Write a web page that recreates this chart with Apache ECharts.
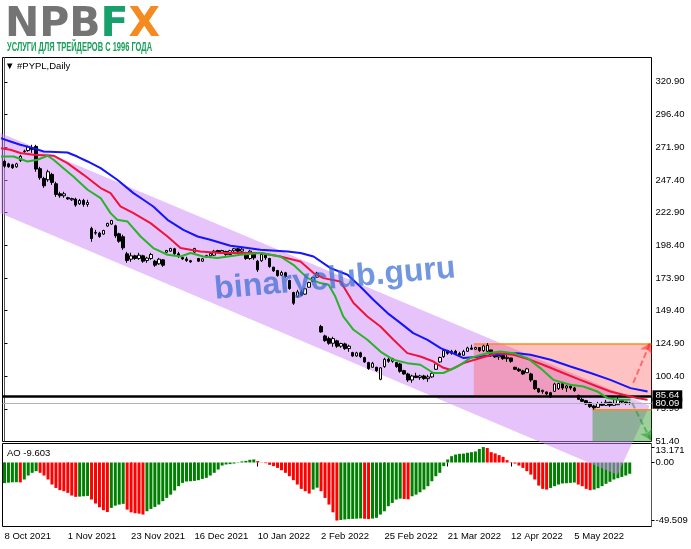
<!DOCTYPE html>
<html><head><meta charset="utf-8">
<script src="https://cdn.jsdelivr.net/npm/echarts@6/dist/echarts.min.js"></script>
<style>html,body{margin:0;padding:0;background:#fff;}#chart{width:691px;height:549px;}</style>
</head><body><div id="chart"></div>
<script>
// ---- data ----
const dateLabels = ['8 Oct 2021','1 Nov 2021','23 Nov 2021','16 Dec 2021','10 Jan 2022','2 Feb 2022','25 Feb 2022','21 Mar 2022','12 Apr 2022','5 May 2022'];
const labelStep = 16;      // bars between date labels
const slotCount = 164;     // bar slots across the panel (incl. empty right margin)
const priceTicks = [51.40, 75.90, 100.40, 124.90, 149.40, 173.90, 198.40, 222.90, 247.40, 271.90, 296.40, 320.90];
const aoTicks = [-49.509, 0, 13.171];
const bidPrice = 80.09;
const levelPrice = 85.64;

// [open, close, low, high]
const candles = [
[261.3,257.7,256.5,262.5],[259.4,257.3,256.5,260.2],[258.7,256.5,255.7,259.5],[257.2,259.4,256.5,260.2],[262.0,265.1,260.9,266.2],
[268.6,269.0,267.7,270.0],[269.4,272.1,268.5,273.0],[271.5,270.3,267.7,273.7],[272.5,255.5,253.5,273.7],[255.8,249.0,247.5,257.2],
[248.5,243.0,241.5,249.7],[247.5,253.5,246.0,255.0],[251.5,245.5,243.7,252.7],[244.5,236.5,234.7,246.0],[237.0,235.5,234.0,238.5],
[235.5,237.0,234.0,238.5],[234.0,233.2,232.5,234.7],[232.5,233.4,231.7,234.0],[233.0,228.5,227.3,234.0],[229.5,232.0,228.7,233.2],
[232.0,229.0,227.3,233.2],[229.0,230.5,227.3,232.5],[211.0,203.5,201.0,212.3],[207.5,208.0,206.3,210.0],[207.5,205.0,204.0,208.5],
[206.8,209.5,206.3,210.0],[212.8,214.8,212.3,215.3],[214.3,217.0,213.8,217.5],[213.0,205.5,204.0,213.8],[207.0,201.5,200.3,207.8],
[204.8,196.5,195.0,206.3],[192.0,187.0,185.3,193.5],[188.0,190.5,186.0,192.8],[190.5,188.5,187.5,191.3],[188.5,191.0,187.5,192.8],
[190.5,186.5,185.3,191.3],[187.0,188.8,185.3,189.8],[188.5,191.5,187.5,192.8],[186.5,183.5,182.3,187.5],[184.5,188.0,183.8,189.0],
[187.5,183.5,182.3,188.0],[193.2,194.5,192.8,195.0],[194.0,196.0,193.5,196.5],[195.8,192.0,191.3,196.5],[192.0,190.0,189.0,193.5],
[189.3,188.2,187.5,189.8],[188.2,187.0,186.0,189.8],[186.8,186.0,185.3,187.5],[193.3,196.0,192.8,196.5],[188.5,186.5,186.0,189.0],
[186.5,188.3,186.0,189.0],[189.5,190.8,189.0,191.3],[190.5,192.3,189.8,192.8],[191.0,194.0,190.5,195.0],[194.5,193.3,192.8,195.0],
[193.3,194.5,192.8,195.0],[193.8,191.5,190.5,194.3],[191.5,194.3,191.0,195.0],[194.3,195.8,192.8,196.5],[195.8,194.0,192.8,196.5],
[194.0,195.5,193.5,196.5],[193.0,188.5,187.5,193.5],[188.5,194.0,187.5,195.0],[192.5,189.0,187.5,192.8],[186.5,180.0,178.5,187.5],
[186.8,191.5,186.0,192.8],[191.0,189.0,187.5,191.3],[188.5,182.5,181.6,189.0],[182.0,179.3,178.5,182.3],[179.5,175.8,174.8,180.0],
[176.0,178.0,175.6,179.3],[177.8,175.0,174.1,178.5],[172.0,166.0,165.1,172.6],[163.0,155.0,153.8,163.6],[160.0,163.5,159.1,165.1],
[163.5,161.0,160.3,165.1],[161.8,165.8,161.3,166.6],[167.0,170.5,166.6,171.1],[171.5,174.2,171.1,174.8],[174.5,177.5,174.1,178.5],
[137.5,133.5,132.9,138.8],[130.5,127.0,126.1,131.4],[128.5,125.0,123.9,129.9],[125.0,128.5,122.4,129.9],[126.8,122.8,121.6,127.6],
[122.8,124.8,121.6,125.4],[124.5,121.0,120.1,125.4],[121.0,122.8,118.6,123.9],[118.0,115.5,114.9,118.6],[115.5,117.8,114.9,118.6],
[117.8,115.0,114.1,118.6],[114.3,111.0,110.4,114.9],[110.5,106.0,105.1,111.1],[107.0,110.0,106.6,111.1],[107.0,104.5,103.6,107.4],
[98.0,106.6,97.3,107.0],[107.5,113.0,106.6,114.1],[113.0,111.5,110.4,114.9],[111.5,113.5,110.4,114.1],[110.5,107.5,106.6,111.1],
[109.5,104.0,102.9,110.4],[104.5,102.0,101.4,105.1],[102.0,97.5,96.1,102.9],[97.5,100.5,95.4,101.4],[100.5,99.3,99.1,102.9],
[99.3,100.5,97.6,101.4],[100.5,98.5,97.6,101.4],[98.5,99.8,96.1,101.4],[99.8,102.5,99.1,103.6],[105.5,109.5,105.1,110.4],
[111.0,114.3,110.4,114.9],[115.0,119.5,114.1,120.1],[119.5,117.5,116.4,120.1],[117.5,119.0,116.4,120.1],[119.0,117.3,116.4,120.1],
[117.3,116.0,114.9,118.6],[116.0,118.8,115.6,120.1],[119.0,121.5,118.6,122.4],[121.5,120.5,120.1,123.9],[120.5,121.8,120.1,122.4],
[121.8,119.5,118.6,122.0],[119.5,123.0,118.6,123.9],[119.0,123.5,118.6,125.2],[120.0,116.0,114.9,120.1],[116.0,114.8,114.1,116.4],
[114.8,115.8,112.6,116.4],[115.8,113.5,112.6,116.4],[113.5,114.5,111.1,116.4],[114.0,111.5,110.4,114.1],[107.0,105.5,105.1,107.4],
[105.5,104.3,103.6,106.6],[104.3,102.0,101.4,105.1],[103.0,105.8,102.9,106.6],[102.0,97.5,96.1,102.9],[97.0,91.0,90.1,97.6],
[91.0,88.5,87.9,91.6],[88.8,89.8,87.2,90.1],[88.5,87.0,86.4,88.8],[88.0,84.8,84.1,88.6],[89.0,94.5,88.6,95.4],
[91.0,94.8,90.1,95.4],[94.8,91.5,90.1,95.0],[91.5,93.0,88.6,93.9],[93.0,91.5,90.1,93.9],[91.5,89.5,88.6,92.4],
[86.0,83.0,82.6,86.4],[83.0,81.5,81.1,84.1],[82.0,79.5,78.9,82.6],[80.5,77.5,76.6,81.1],[78.0,76.5,75.2,78.9],
[77.0,79.8,76.8,81.1],[79.8,78.5,78.1,81.1],[78.5,80.8,78.2,82.6],[80.8,78.5,77.4,81.1],[78.5,80.0,78.2,82.6],
[79.0,83.0,78.9,84.9],[82.5,81.0,80.4,82.6],[81.0,80.3,78.9,81.1],[80.3,80.09,78.9,81.1]
];

// Alligator lines: [bar position, price]
const jawLine = [[-1.0,278.7],[1.5,276.2],[4.0,273.7],[7.3,271.2],[9.9,268.7],[15.9,267.9],[18.4,264.9],[21.0,261.2],[24.3,256.2],[28.5,247.5],[32.6,237.5],[35.1,232.5],[37.6,227.5],[41.2,217.5],[45.2,210.0],[48.8,205.0],[52.0,202.5],[57.1,198.0],[59.6,197.1],[64.7,195.0],[71.5,193.8],[74.8,192.6],[78.1,190.0],[82.4,181.3],[86.7,176.3],[89.9,167.5],[93.2,157.6],[96.8,147.6],[100.1,140.1],[103.3,132.6],[106.9,127.6],[110.2,121.4],[112.7,118.3],[116.0,113.9],[120.3,115.1],[124.6,116.4],[129.6,117.6],[132.9,116.4],[138.0,112.6],[143.0,107.6],[148.1,102.7],[153.1,97.6],[158.2,91.4],[162.5,88.9]];
const teethLine = [[-1.0,271.2],[1.5,270.0],[4.0,267.5],[7.3,266.2],[12.4,265.5],[15.9,260.0],[20.0,251.2],[24.3,241.3],[26.8,237.5],[29.3,227.5],[32.6,222.5],[36.9,215.0],[41.2,205.0],[44.5,196.3],[49.5,193.8],[54.6,192.6],[64.7,192.6],[69.7,190.0],[74.8,186.3],[78.1,177.6],[80.6,173.8],[84.9,171.3],[88.2,155.1],[91.7,145.1],[95.0,137.6],[98.3,127.6],[101.8,117.6],[105.1,115.1],[108.4,111.3],[110.9,106.6],[112.7,105.1],[116.0,110.1],[120.3,113.9],[124.6,117.6],[128.6,116.4],[132.9,112.6],[137.2,107.6],[141.2,102.7],[145.5,97.6],[149.8,92.6],[153.1,88.9],[156.4,86.4],[159.9,83.9],[162.5,82.6]];
const lipsLine = [[-1.0,264.9],[2.3,264.9],[5.8,261.2],[8.3,262.5],[10.9,265.5],[12.4,262.5],[14.9,256.2],[17.4,249.9],[21.0,240.0],[24.3,233.8],[26.8,222.5],[28.5,217.5],[31.1,216.2],[34.4,205.0],[37.6,196.3],[41.2,191.3],[44.5,190.0],[47.0,192.6],[50.3,190.0],[53.8,188.8],[59.6,191.3],[64.7,192.6],[69.7,190.0],[73.0,183.8],[76.6,173.8],[79.8,170.1],[81.9,168.8],[83.6,160.0],[85.6,145.1],[88.2,135.1],[91.7,127.6],[95.0,118.8],[98.3,112.6],[101.8,110.1],[105.1,108.9],[108.4,102.7],[110.9,102.7],[114.5,107.6],[117.7,113.9],[122.0,117.6],[125.3,118.8],[128.6,117.6],[132.1,113.9],[135.4,106.4],[138.7,97.6],[143.0,93.9],[146.3,92.6],[149.8,88.9],[152.4,83.9],[154.9,82.6],[158.2,82.6]];

// Awesome Oscillator values
const aoValues = [
-17.6,-17.2,-16.9,-16.8,-17.0,-14.5,-11.1,-8.8,-7.4,-8.8,
-11.1,-14.5,-18.8,-21.7,-23.6,-24.5,-25.9,-28.2,-29.3,-29.1,
-28.8,-28.5,-31.6,-35.0,-38.2,-40.7,-42.2,-38.7,-36.8,-35.9,
-35.3,-40.2,-42.5,-43.3,-43.6,-44.4,-41.6,-39.6,-37.9,-35.9,
-33.0,-30.2,-27.4,-23.9,-20.2,-17.4,-16.2,-16.0,-15.7,-15.1,
-14.0,-13.1,-11.1,-8.8,-6.0,-2.6,-1.7,-1.4,-0.9,-0.3,
0.9,1.4,2.3,2.6,1.2,0.2,-0.6,-2.0,-3.1,-4.6,
-6.6,-8.8,-11.7,-15.1,-18.8,-22.5,-24.5,-26.5,-23.1,-21.5,
-24.5,-30.2,-35.9,-42.5,-49.509,-49.0,-48.6,-48.3,-48.1,-47.9,
-47.7,-48.0,-48.3,-47.8,-47.2,-44.4,-41.6,-37.3,-34.5,-31.6,
-30.8,-31.1,-31.4,-28.8,-27.4,-25.4,-23.1,-20.2,-16.0,-11.7,
-8.8,-3.1,2.6,5.4,6.8,7.4,7.6,8.3,8.8,9.4,
11.5,13.171,12.4,8.8,7.7,6.3,4.8,2.0,0.3,-0.9,
-2.6,-4.6,-7.4,-10.3,-14.5,-19.7,-22.5,-23.1,-21.7,-20.2,
-18.8,-17.9,-17.7,-17.4,-17.1,-18.8,-20.2,-22.5,-23.6,-23.1,
-21.9,-20.2,-18.2,-16.5,-14.5,-13.4,-12.3,-11.1,-9.603
];

// drawing objects (bar position, price)
const channelVertices = [[-1.0,282.5],[163.0,78.2],[154.9,26.5],[-1.0,222.5]];
const zoneBoxes = [[118.6,163.5,124.4,levelPrice],[148.6,163.5,75.2,51.4]]; // x0, x1, top, bottom
const zoneFills = ['rgba(255,80,80,0.35)','rgba(40,150,40,0.45)'];
const arrowUp = [[158.9,95.4],[163.2,125.4]];
const arrowDown = [[158.6,80.2],[163.3,52.6]];

// ---- chart ----
const cats = [];
for (let i = 0; i < slotCount; i++) {
  cats.push(i % labelStep === 0 && i / labelStep < dateLabels.length ? dateLabels[i / labelStep] : 'b' + i);
}
const showDate = (idx) => idx % labelStep === 0 && idx / labelStep < dateLabels.length;
const FONT = '"Liberation Sans", Arial, sans-serif';

const chart = echarts.init(document.getElementById('chart'), null, {renderer: 'canvas'});
const option = {
  animation: false,
  backgroundColor: '#ffffff',
  grid: [
    {left: 2.5, right: 39.5, top: 57.5, height: 384, show: true, borderColor: '#000', borderWidth: 1, backgroundColor: 'rgba(0,0,0,0)'},
    {left: 2.5, right: 39.5, top: 443.5, height: 83, show: true, borderColor: '#000', borderWidth: 1, backgroundColor: 'rgba(0,0,0,0)'}
  ],
  xAxis: [
    {type: 'category', gridIndex: 0, data: cats, boundaryGap: true, axisLine: {show: false}, axisTick: {show: false}, axisLabel: {show: false}, splitLine: {show: false}},
    {type: 'category', gridIndex: 1, data: cats, boundaryGap: true, axisLine: {show: false},
      axisTick: {show: true, interval: showDate, alignWithLabel: true, length: 4, lineStyle: {color: '#000'}},
      axisLabel: {interval: showDate, align: 'left', margin: 5, color: '#000', fontSize: 9.5, fontFamily: FONT},
      splitLine: {show: false}},
    {type: 'value', gridIndex: 0, min: -0.5, max: slotCount - 0.5, show: false, splitLine: {show: false}}
  ],
  yAxis: [
    {type: 'value', gridIndex: 0, position: 'right', min: 51.4, max: 339.1, splitLine: {show: false},
      axisLine: {show: true, lineStyle: {color: '#555', width: 1}},
      axisTick: {show: true, customValues: priceTicks, length: 3, lineStyle: {color: '#000'}},
      axisLabel: {customValues: priceTicks, formatter: v => v.toFixed(2), margin: 4, color: '#000', fontSize: 9.5, fontFamily: FONT}},
    {type: 'value', gridIndex: 1, position: 'right', min: -54.6, max: 16.2, splitLine: {show: false},
      axisLine: {show: true, lineStyle: {color: '#555', width: 1}},
      axisTick: {show: true, customValues: aoTicks, length: 3, lineStyle: {color: '#000'}},
      axisLabel: {customValues: aoTicks,
        formatter: v => (v === 0 ? '0.00' : (v > 0 ? '{t|' + v + '}' : String(v))),
        rich: {t: {padding: [7, 0, 0, 0], fontSize: 9.5, fontFamily: FONT, color: '#000'}},
        margin: 4, color: '#000', fontSize: 9.5, fontFamily: FONT}}
  ],
  series: [
    {type: 'bar', name: 'AO', xAxisIndex: 1, yAxisIndex: 1, data: aoValues, barWidth: 3, z: 1,
      itemStyle: {color: p => (p.dataIndex === 0 || aoValues[p.dataIndex] > aoValues[p.dataIndex - 1]) ? '#008000' : '#ff0000'}},
    {type: 'custom', name: 'channel', xAxisIndex: 2, yAxisIndex: 0, data: [[0, 100]], z: 2, clip: false, silent: true,
      renderItem: (params, api) => ({
        type: 'polygon',
        shape: {points: channelVertices.map(v => api.coord(v))},
        style: {fill: 'rgba(205,135,245,0.5)'}
      })},
    {type: 'custom', name: 'zones', xAxisIndex: 2, yAxisIndex: 0, data: zoneBoxes, z: 3, clip: false, silent: true,
      renderItem: (params, api) => {
        const p0 = api.coord([api.value(0), api.value(2)]);
        const p1 = api.coord([api.value(1), api.value(3)]);
        return {type: 'group', children: [
          {type: 'rect', shape: {x: p0[0], y: p0[1], width: p1[0] - p0[0], height: p1[1] - p0[1]}, style: {fill: zoneFills[params.dataIndex]}},
          {type: 'line', shape: {x1: p0[0], y1: p0[1], x2: p1[0], y2: p0[1]}, style: {stroke: '#ff8c1a', lineWidth: 1.5}}
        ]};
      }},
    {type: 'candlestick', name: '#PYPL', xAxisIndex: 0, yAxisIndex: 0, data: candles, barWidth: 3, z: 4,
      itemStyle: {color: '#ffffff', color0: '#000000', borderColor: '#000000', borderColor0: '#000000', borderWidth: 1},
      markLine: {silent: true, symbol: 'none', animation: false,
        data: [
          {yAxis: levelPrice, lineStyle: {color: '#000', width: 2.5, type: 'solid'},
            label: {show: true, position: 'end', distance: 1, formatter: levelPrice.toFixed(2), color: '#fff', backgroundColor: '#000', padding: [1, 3, 0, 3], fontSize: 9.5, fontFamily: FONT}},
          {yAxis: bidPrice, lineStyle: {color: '#b4b4b4', width: 1, type: 'solid'},
            label: {show: true, position: 'end', distance: 1, formatter: bidPrice.toFixed(2), color: '#fff', backgroundColor: '#000', padding: [1, 3, 0, 3], fontSize: 9.5, fontFamily: FONT}}
        ]}},
    {type: 'line', name: 'Jaw', xAxisIndex: 2, yAxisIndex: 0, data: jawLine, showSymbol: false, z: 5, lineStyle: {color: '#1414ff', width: 2}, itemStyle: {color: '#1414ff'}},
    {type: 'line', name: 'Teeth', xAxisIndex: 2, yAxisIndex: 0, data: teethLine, showSymbol: false, z: 5, lineStyle: {color: '#f0143c', width: 2}, itemStyle: {color: '#f0143c'}},
    {type: 'line', name: 'Lips', xAxisIndex: 2, yAxisIndex: 0, data: lipsLine, showSymbol: false, z: 5, lineStyle: {color: '#28b428', width: 2}, itemStyle: {color: '#28b428'}},
    {type: 'lines', name: 'arrows', coordinateSystem: 'cartesian2d', xAxisIndex: 2, yAxisIndex: 0, z: 6, silent: true,
      symbol: ['none', 'arrow'], symbolSize: 10,
      data: [
        {coords: arrowUp, lineStyle: {color: '#ff1414', width: 2, type: [6, 3]}},
        {coords: arrowDown, lineStyle: {color: '#18901e', width: 2, type: [6, 3]}}
      ]}
  ],
  graphic: [
    {type: 'text', x: 5, y: 5, z: 100, silent: true,
      style: {text: '{n|NPB}{f|F}{x|X}', font: 'bold 41px "DejaVu Sans"',
        rich: {n: {fill: '#747474', font: 'bold 41px "DejaVu Sans"'}, f: {fill: '#17a06c', font: 'bold 41px "DejaVu Sans"'}, x: {fill: '#f58a1f', font: 'bold 41px "DejaVu Sans"'}}}},
    {type: 'text', x: 7, y: 41, scaleX: 0.6, z: 100, silent: true,
      style: {text: 'УСЛУГИ ДЛЯ ТРЕЙДЕРОВ С 1996 ГОДА', fill: '#17a05a', font: 'bold 12.5px "Liberation Sans", sans-serif'}},
    {type: 'text', x: 5, y: 61, z: 100, silent: true,
      style: {text: '▼ #PYPL,Daily', fill: '#000', font: '9.5px ' + FONT}},
    {type: 'text', x: 7, y: 448, z: 100, silent: true,
      style: {text: 'AO -9.603', fill: '#000', font: '9.5px ' + FONT}},
    {type: 'text', x: 216, y: 306, rotation: 0.09, z: 100, silent: true,
      style: {text: 'binaryclub.guru', fill: 'rgba(60,110,210,0.72)', font: 'bold 32px "Liberation Sans"', textVerticalAlign: 'bottom'}}
  ]
};
chart.setOption(option);
</script></body></html>
